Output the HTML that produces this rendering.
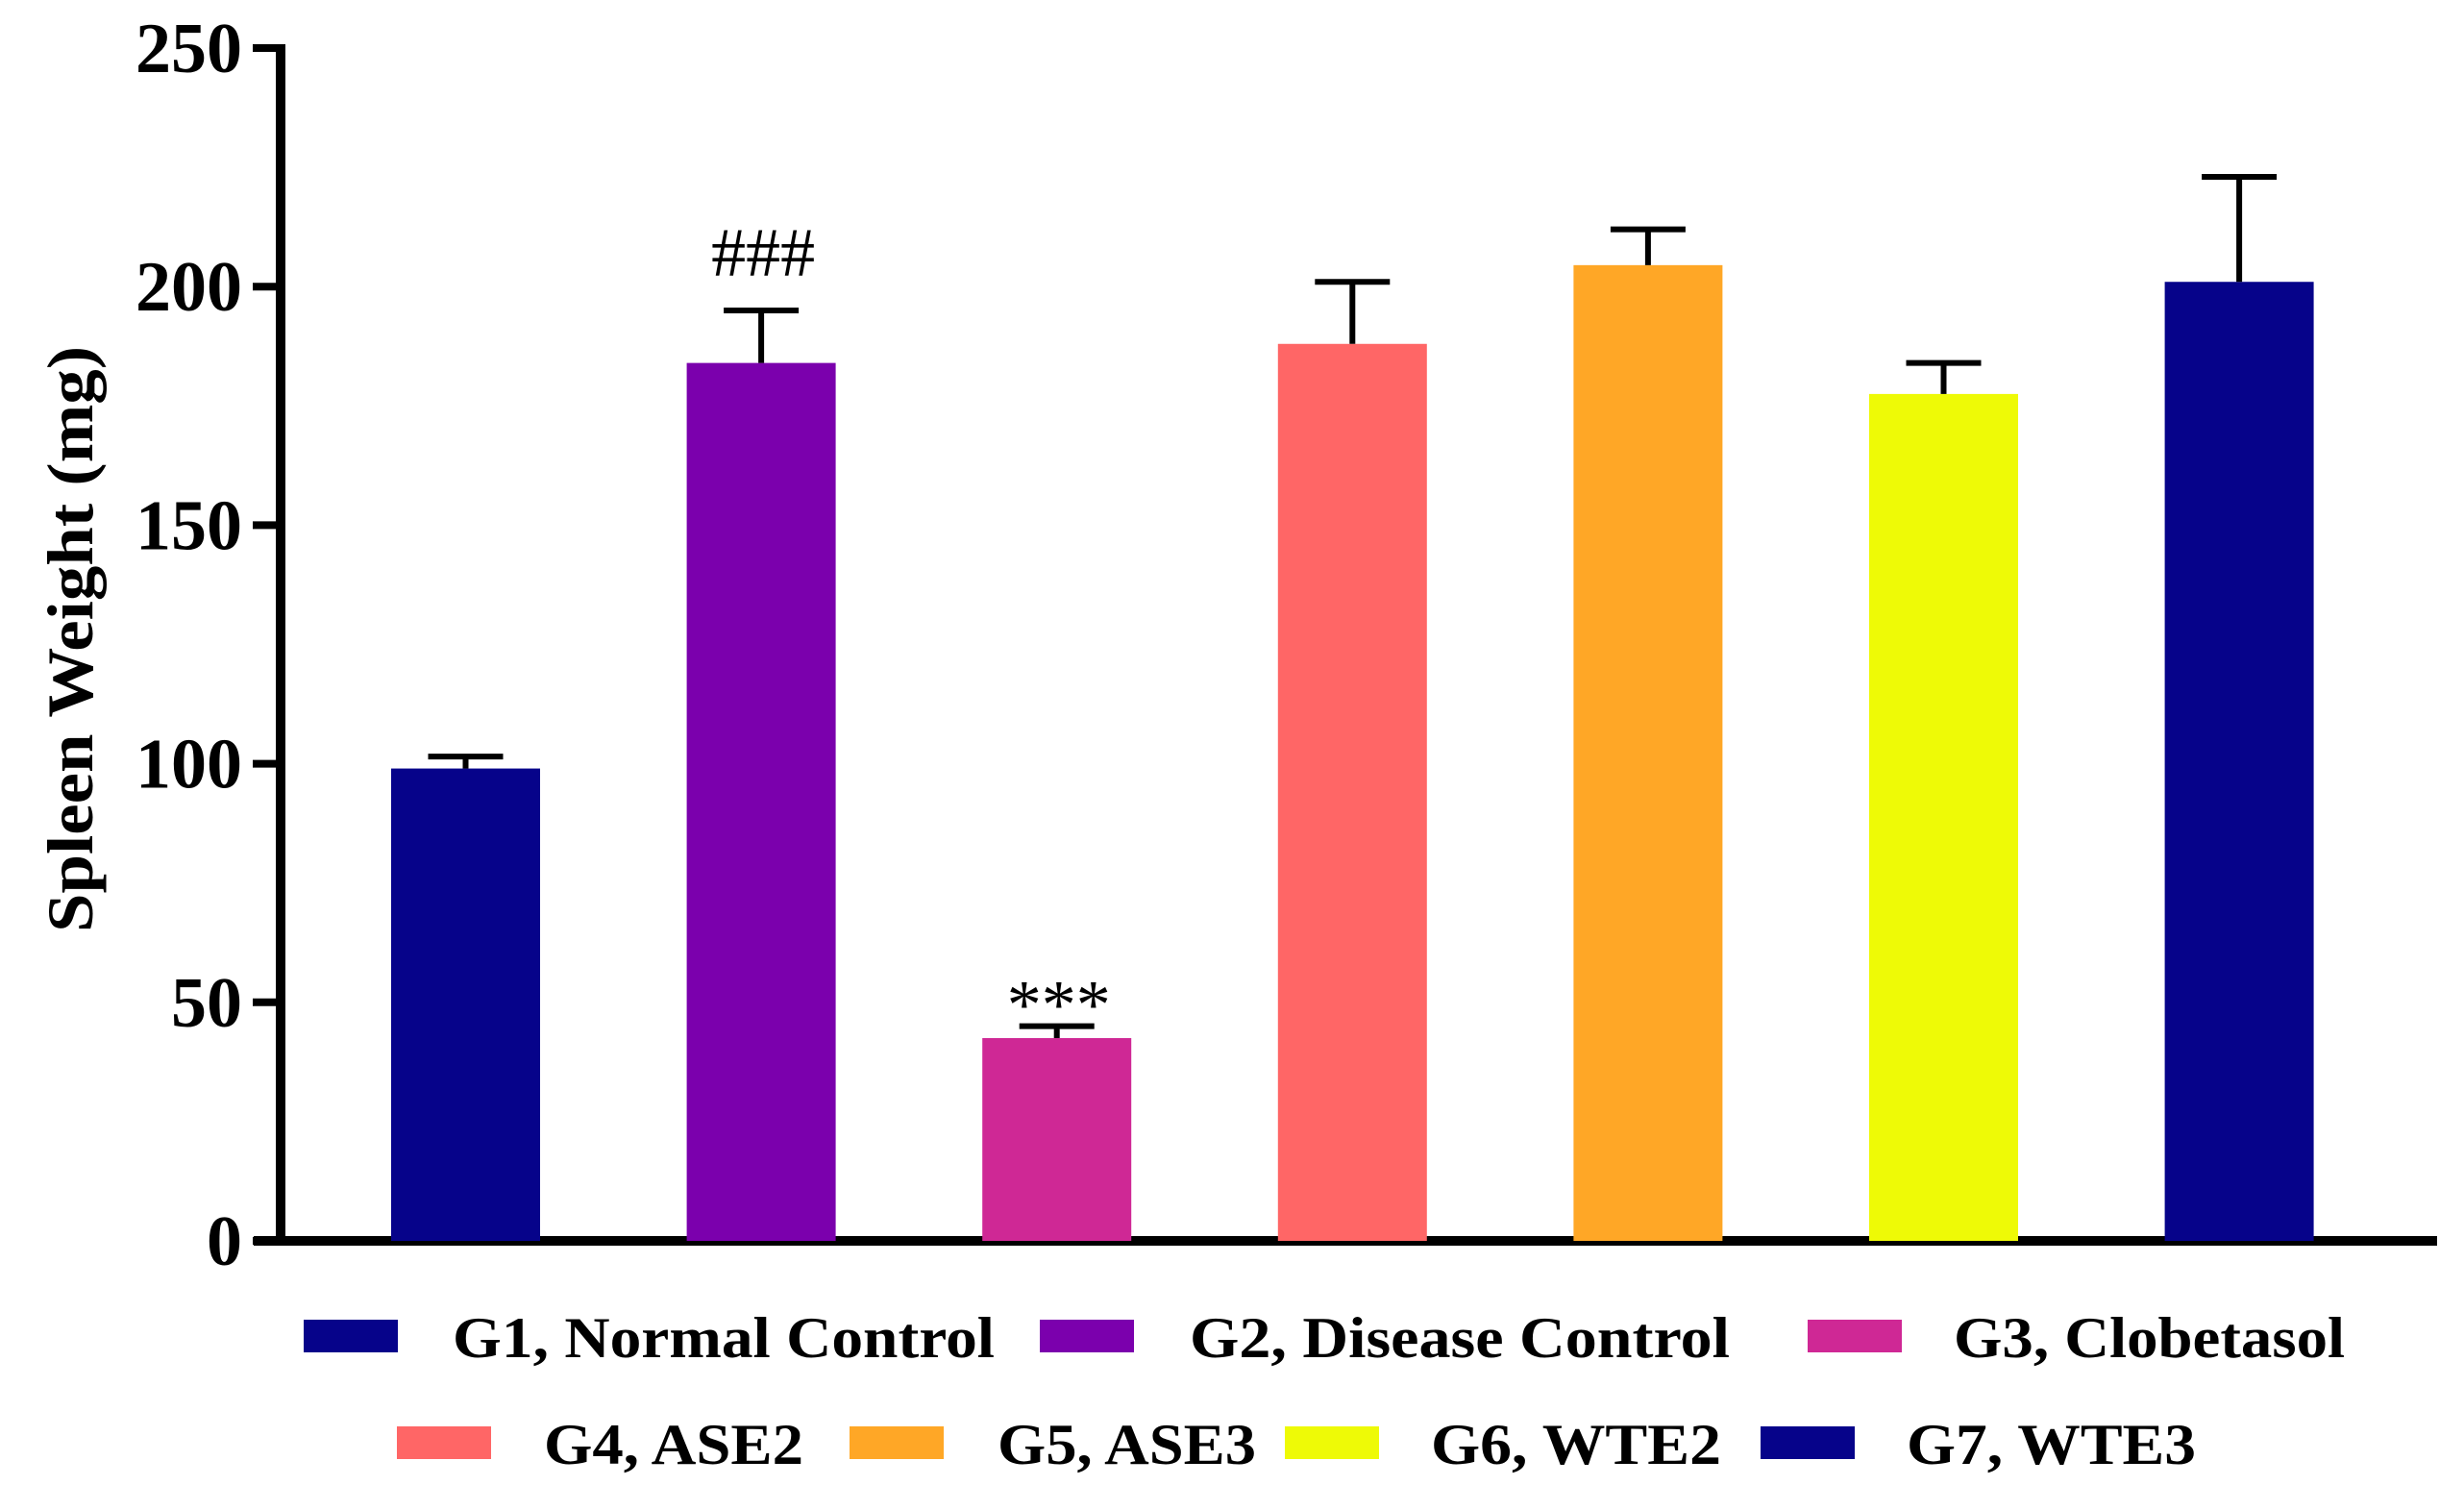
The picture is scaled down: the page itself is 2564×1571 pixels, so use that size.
<!DOCTYPE html>
<html><head><meta charset="utf-8"><style>
html,body{margin:0;padding:0;background:#fff;}
svg{display:block;font-family:"Liberation Serif","Times New Roman",serif;}
</style></head><body>
<svg id="chart" width="2564" height="1571" viewBox="0 0 2564 1571">
<g id="axes"></g>
<g id="bars"></g>
<g id="legend"></g>
<text transform="translate(96,665) rotate(-90)" text-anchor="middle" font-size="68" font-weight="bold" textLength="610" lengthAdjust="spacingAndGlyphs">Spleen Weight (mg)</text>
</svg>
<script>
const categories = ["G1, Normal Control","G2, Disease Control","G3, Clobetasol","G4, ASE2","G5, ASE3","G6, WTE2","G7, WTE3"];
const means = [99, 184, 42.5, 188, 204.5, 177.5, 201];
const errors = [2.5, 11, 2.5, 13, 7.5, 6.5, 22];
const annotations = ["", "###", "***", "", "", "", ""];
const colors = ["#06038A","#7B00AD","#CF2895","#FF6666","#FFA726","#EEFA06","#06038A"];
const yTicks = [0, 50, 100, 150, 200, 250];

const NS = "http://www.w3.org/2000/svg";
const y0 = 1291, yTop = 50, yMax = 250;
const y = v => y0 - (v / yMax) * (y0 - yTop);
const x0 = 484.5, step = 307.6, barW = 155;
const xc = i => x0 + i * step;
function mk(tag, attrs, parent) { const e = document.createElementNS(NS, tag); for (const k in attrs) e.setAttribute(k, attrs[k]); parent.appendChild(e); return e; }

const axes = document.getElementById('axes');
const bars = document.getElementById('bars');
const legend = document.getElementById('legend');

categories.forEach((c, i) => {
  const top = y(means[i]);
  const b = mk('rect', {x: xc(i) - barW / 2, y: top, width: barW, height: y0 - top, fill: colors[i]}, bars);
  
  
  const et = y(means[i] + errors[i]);
  const s = mk('line', {x1: xc(i), x2: xc(i), y1: top, y2: et, stroke: '#000', 'stroke-width': 6}, bars);
  
  
  const cap = mk('line', {x1: xc(i) - 39, x2: xc(i) + 39, y1: et, y2: et, stroke: '#000', 'stroke-width': 6}, bars);
  
  
  if (annotations[i]) {
    const off = annotations[i].indexOf('*') >= 0 ? 2 : -36;
    const a = mk('text', {x: xc(i) + 2, y: et + off, 'text-anchor': 'middle', 'font-size': 72, textLength: 108, lengthAdjust: 'spacingAndGlyphs'}, bars);
    a.textContent = annotations[i];
    
    
  }
});

const ya = mk('line', {x1: 292, x2: 292, y1: yTop - 4, y2: y0 + 5, stroke: '#000', 'stroke-width': 10}, axes);


const xa = mk('line', {x1: 264, x2: 2536, y1: y0, y2: y0, stroke: '#000', 'stroke-width': 10}, axes);


yTicks.forEach(t => {
  const tk = mk('line', {x1: 263, x2: 295, y1: y(t), y2: y(t), stroke: '#000', 'stroke-width': 8}, axes);
  
  
  const lb = mk('text', {x: 252, y: y(t) + 25, 'text-anchor': 'end', 'font-size': 74, 'font-weight': 'bold'}, axes);
  lb.textContent = t;
  
  
});

const legPos = [[316,1373,471,564],[1082,1373,1238,562],[1881,1373,2033,407],[413,1484,566,270],[884,1484,1038,269],[1337,1484,1489,302],[1832,1484,1984,301]];
categories.forEach((c, i) => {
  const p = legPos[i];
  const g = mk('g', {}, legend);
  
  
  mk('rect', {x: p[0], y: p[1], width: 98, height: 34, fill: colors[i]}, g);
  const t = mk('text', {x: p[2], y: p[1] + 39, 'font-size': 60, 'font-weight': 'bold', textLength: p[3], lengthAdjust: 'spacingAndGlyphs'}, g);
  t.textContent = c;
});
</script>
</body></html>
